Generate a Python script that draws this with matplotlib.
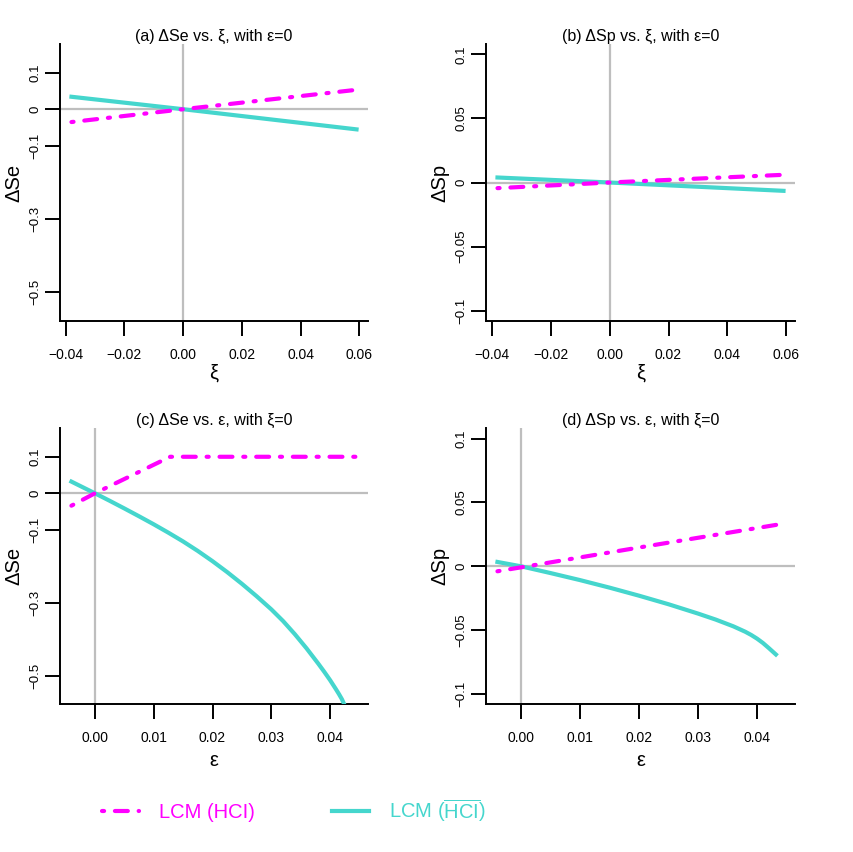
import matplotlib
matplotlib.use('Agg')
import matplotlib.pyplot as plt
from matplotlib.lines import Line2D

plt.rcParams['font.family'] = ['Liberation Sans', 'DejaVu Sans']
plt.rcParams['mathtext.fontset'] = 'custom'
plt.rcParams['mathtext.rm'] = 'Liberation Sans'
plt.rcParams['mathtext.it'] = 'Liberation Sans:italic'

#%% Data

# panel (a) and (b): varying xi, eps = 0
xi = [-0.038, 0.0, 0.059]
se_hci_xi = [-0.035, 0.0, 0.053]
se_nohci_xi = [0.034, 0.0, -0.055]
sp_hci_xi = [-0.0044, 0.0, 0.006]
sp_nohci_xi = [0.0039, 0.0, -0.0065]

# panel (c): varying eps, xi = 0
eps_c_hci = [-0.004, 0.0, 0.0128, 0.0447]
se_hci_eps = [-0.034, 0.0, 0.1, 0.1]
eps_c = [-0.004, 0.0, 0.0025, 0.005, 0.0075, 0.01, 0.0125, 0.015, 0.0175, 0.02,
         0.0225, 0.025, 0.0275, 0.03, 0.032, 0.034, 0.036, 0.038, 0.039, 0.04,
         0.041, 0.0415, 0.042, 0.0424]
se_nohci_eps = [0.032, 0.0, -0.0205, -0.0415, -0.063, -0.085, -0.108, -0.132, -0.158, -0.186,
                -0.216, -0.248, -0.282, -0.318, -0.350, -0.386, -0.425, -0.467, -0.489, -0.512,
                -0.537, -0.550, -0.564, -0.578]

# panel (d)
eps_d_hci = [-0.004, 0.02, 0.0444]
sp_hci_eps = [-0.0039, 0.0147, 0.0333]
eps_d = [-0.004, 0.0, 0.005, 0.01, 0.015, 0.02, 0.025, 0.03, 0.033, 0.036,
         0.038, 0.039, 0.04, 0.041, 0.042, 0.0432]
sp_nohci_eps = [0.0034, 0.0, -0.0053, -0.0108, -0.0167, -0.0230, -0.0297, -0.0370, -0.0417, -0.0470,
                -0.0512, -0.0537, -0.0566, -0.0600, -0.0640, -0.0690]

# ticks
xt_xi = [-0.04, -0.02, 0.0, 0.02, 0.04, 0.06]
xt_xi_lab = ['\u22120.04', '\u22120.02', '0.00', '0.02', '0.04', '0.06']
xt_eps = [0.0, 0.01, 0.02, 0.03, 0.04]
xt_eps_lab = ['0.00', '0.01', '0.02', '0.03', '0.04']
yt_se = [0.1, 0.0, -0.1, -0.3, -0.5]
yt_se_lab = ['0.1', '0', '\u22120.1', '\u22120.3', '\u22120.5']
yt_sp = [0.1, 0.05, 0.0, -0.05, -0.1]
yt_sp_lab = ['0.1', '0.05', '0', '\u22120.05', '\u22120.1']

magenta = '#FF00FF'
cyan = '#45D6CD'
grey = '#BEBEBE'
dotdash = (0, (0.5, 2.6, 3.1, 2.6))

fig = plt.figure(figsize=(8.54, 8.52), dpi=100)

W = 854.0
H = 852.0

def make_ax(left, top, right, bottom):
    return fig.add_axes([left / W, 1 - bottom / H, (right - left) / W, (bottom - top) / H])

def style(ax, xt, xtl, yt, ytl, xlim, ylim, xlab, ylab, title, xlab_y):
    ax.axhline(0, color=grey, lw=1.6, zorder=1)
    ax.axvline(0, color=grey, lw=1.6, zorder=1)
    ax.set_xlim(xlim)
    ax.set_ylim(ylim)
    ax.set_xticks(xt)
    ax.set_xticklabels(xtl)
    ax.set_yticks(yt)
    ax.set_yticklabels(ytl)
    for s in ['top', 'right']:
        ax.spines[s].set_visible(False)
    for s in ['left', 'bottom']:
        ax.spines[s].set_linewidth(1.4)
    ax.tick_params(axis='both', direction='out', length=10.5, width=1.4)
    ax.tick_params(axis='x', labelsize=10, pad=9)
    ax.tick_params(axis='y', labelsize=9.5, pad=3, labelrotation=90)
    for lab in ax.get_yticklabels():
        lab.set_va('center')
    ax.set_xlabel(xlab, fontsize=14.5)
    ax.set_ylabel(ylab, fontsize=14.5)
    ax.xaxis.set_label_coords(0.5, xlab_y)
    ax.yaxis.set_label_coords(-0.12, 0.5)
    ax.set_title(title, fontsize=11.5, pad=1)

xlim_xi = (-0.0419, 0.0629)
xlim_eps = (-0.00594, 0.04644)
ylim_se = (-0.578, 0.178)
ylim_sp = (-0.108, 0.108)

#%% (a)
ax1 = make_ax(60, 44, 368, 321)
style(ax1, xt_xi, xt_xi_lab, yt_se, yt_se_lab, xlim_xi, ylim_se,
      '\u03be', '\u0394Se', '(a) \u0394Se vs. \u03be, with \u03b5=0', -0.155)
ax1.plot(xi, se_nohci_xi, color=cyan, lw=3, zorder=3)
ax1.plot(xi, se_hci_xi, color=magenta, lw=3, ls=dotdash, dash_capstyle='round', zorder=4)

#%% (b)
ax2 = make_ax(486, 44, 795, 321)
style(ax2, xt_xi, xt_xi_lab, yt_sp, yt_sp_lab, xlim_xi, ylim_sp,
      '\u03be', '\u0394Sp', '(b) \u0394Sp vs. \u03be, with \u03b5=0', -0.155)
ax2.plot(xi, sp_nohci_xi, color=cyan, lw=3, zorder=3)
ax2.plot(xi, sp_hci_xi, color=magenta, lw=3, ls=dotdash, dash_capstyle='round', zorder=4)

#%% (c)
ax3 = make_ax(60, 428.3, 368, 704.3)
style(ax3, xt_eps, xt_eps_lab, yt_se, yt_se_lab, xlim_eps, ylim_se,
      '\u03b5', '\u0394Se', '(c) \u0394Se vs. \u03b5, with \u03be=0', -0.17)
ax3.plot(eps_c, se_nohci_eps, color=cyan, lw=3, zorder=3)
ax3.plot(eps_c_hci, se_hci_eps, color=magenta, lw=3, ls=dotdash, dash_capstyle='round', zorder=4)

#%% (d)
ax4 = make_ax(486, 428.3, 795, 704.3)
style(ax4, xt_eps, xt_eps_lab, yt_sp, yt_sp_lab, xlim_eps, ylim_sp,
      '\u03b5', '\u0394Sp', '(d) \u0394Sp vs. \u03b5, with \u03be=0', -0.17)
ax4.plot(eps_d, sp_nohci_eps, color=cyan, lw=3, zorder=3)
ax4.plot(eps_d_hci, sp_hci_eps, color=magenta, lw=3, ls=dotdash, dash_capstyle='round', zorder=4)

#%% Legend
handles = [Line2D([], [], color=magenta, lw=3, ls=dotdash, dash_capstyle='round'),
           Line2D([], [], color=cyan, lw=3)]
labels = ['LCM (HCI)', r'LCM ($\overline{\mathrm{HCI}}$)']
fig.legend(handles, labels, loc='center', bbox_to_anchor=(294 / W, 1 - 811 / H),
           ncol=2, frameon=False, fontsize=14.5, handlelength=1.85,
           handletextpad=1.0, columnspacing=3.8, labelcolor=[magenta, cyan])

fig.savefig('out.png', dpi=100)
